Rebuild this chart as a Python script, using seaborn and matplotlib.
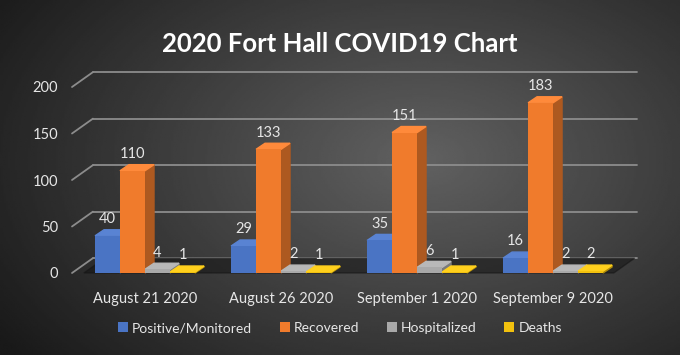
import numpy as np
import pandas as pd
import matplotlib
matplotlib.use('Agg')
import matplotlib.pyplot as plt
import matplotlib.colors as mcolors
from matplotlib.patches import Polygon
import seaborn as sns

# chart values
dates = ['August 21 2020', 'August 26 2020', 'September 1 2020', 'September 9 2020']
series = ['Positive/Monitored', 'Recovered', 'Hospitalized', 'Deaths']
positive = [40, 29, 35, 16]
recovered = [110, 133, 151, 183]
hospitalized = [4, 2, 6, 2]
deaths = [1, 1, 1, 2]
yticks = [0, 50, 100, 150, 200]

colors = ['#4a74c4', '#f07b2c', '#a9a9a9', '#f2c10e']

df = pd.DataFrame({
    'date': dates * 4,
    'status': np.repeat(series, len(dates)),
    'count': positive + recovered + hospitalized + deaths,
})

sns.set_style('dark')
plt.rcParams['font.family'] = ['Lato', 'DejaVu Sans']
txt = '#e6e6e6'

fig = plt.figure(figsize=(6.8, 3.55), dpi=100)

# gradient background
bg = fig.add_axes([0, 0, 1, 1], zorder=-5)
yy, xx = np.mgrid[0:1:200j, 0:1:380j]
r = np.sqrt(((xx - 0.62) / 0.75) ** 2 + ((yy - 0.45) / 0.9) ** 2)
shade = np.clip(0.38 - 0.28 * r, 0.1, 0.4)
bg.imshow(shade, cmap='gray', vmin=0, vmax=1, aspect='auto', extent=[0, 1, 0, 1])
bg.axis('off')

ax = fig.add_axes([72 / 680, 82 / 355, 565 / 680, 186 / 355])
ax.patch.set_alpha(0)
sns.barplot(data=df, x='date', y='count', hue='status', palette=colors,
            width=0.735, ax=ax, zorder=4, saturation=1, legend=True,
            edgecolor='none')
ax.set_xlim(-0.537, 3.617)
ax.set_ylim(0, 200)

# pseudo 3D back wall gridlines
gx, gy = 0.154, 16
for v in yticks:
    ax.plot([-0.537, -0.537 + gx], [v, v + gy], color='#8c8c8c', lw=1.3, clip_on=False, zorder=1)
    ax.plot([-0.537 + gx, 3.617], [v + gy, v + gy], color='#8c8c8c', lw=1.3, clip_on=False, zorder=1)

# floor shadow
ax.add_patch(Polygon([(-0.45, 0), (-0.45 + gx, gy), (3.6, gy), (3.6 - gx, 0)],
                     closed=True, color='#141414', alpha=0.55, zorder=1.5, clip_on=False))

# bar depth
bx, by = 0.066, 6.5
for cont, c in zip(ax.containers, colors):
    side = tuple(v * 0.72 for v in mcolors.to_rgb(c))
    top = tuple(min(1, v + 0.06) for v in mcolors.to_rgb(c))
    for bar in cont:
        x0, w, h = bar.get_x(), bar.get_width(), bar.get_height()
        ax.add_patch(Polygon([(x0 + w, 0), (x0 + w + bx, by), (x0 + w + bx, h + by), (x0 + w, h)],
                             closed=True, color=side, zorder=3, clip_on=False))
        ax.add_patch(Polygon([(x0, h), (x0 + bx, h + by), (x0 + w + bx, h + by), (x0 + w, h)],
                             closed=True, color=top, zorder=3, clip_on=False))
        ax.text(x0 + w / 2, h + by + 4, f'{int(h)}', ha='center', va='bottom',
                color=txt, fontsize=10.5, clip_on=False)

ax.set_yticks(yticks)
ax.set_xlabel('')
ax.set_ylabel('')
ax.grid(False)
ax.tick_params(axis='y', colors=txt, labelsize=10.5, length=0, pad=10)
ax.tick_params(axis='x', colors=txt, labelsize=10.5, length=0, pad=14)
for s in ax.spines.values():
    s.set_visible(False)

handles, labels = ax.get_legend_handles_labels()
ax.legend_.remove()
fig.legend(handles, labels, loc='center', bbox_to_anchor=(0.5, 0.076), ncol=4,
           frameon=False, labelcolor=txt, fontsize=10, handlelength=0.7,
           handleheight=0.7, handletextpad=0.3, columnspacing=2.0)

fig.text(0.5, 0.875, '2020 Fort Hall COVID19 Chart', ha='center', va='center',
         color='white', fontsize=18.5, fontweight='bold')

fig.savefig('out.png', dpi=100)
